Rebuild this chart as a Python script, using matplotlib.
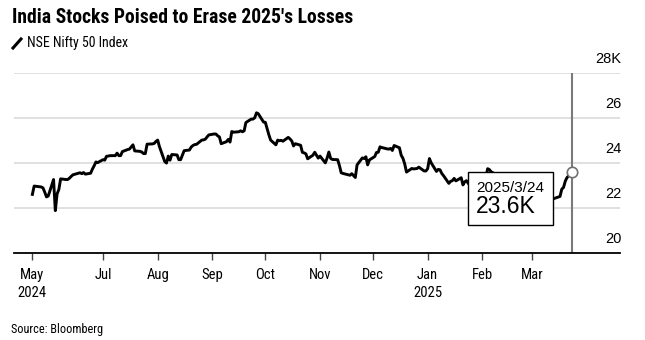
import matplotlib
matplotlib.use("Agg")
import matplotlib.pyplot as plt
from matplotlib.lines import Line2D
from matplotlib.patches import Rectangle
import pandas as pd

# NSE Nifty 50 daily close, thousands
dates = [
    "2024-05-22", "2024-05-23", "2024-05-24", "2024-05-27", "2024-05-28", "2024-05-29", "2024-05-30", "2024-05-31",
    "2024-06-03", "2024-06-04", "2024-06-05", "2024-06-06", "2024-06-07", "2024-06-10", "2024-06-11", "2024-06-12",
    "2024-06-13", "2024-06-14", "2024-06-18", "2024-06-19", "2024-06-20", "2024-06-21", "2024-06-24", "2024-06-25",
    "2024-06-26", "2024-06-27", "2024-06-28",
    "2024-07-01", "2024-07-02", "2024-07-03", "2024-07-04", "2024-07-05", "2024-07-08", "2024-07-09", "2024-07-10",
    "2024-07-11", "2024-07-12", "2024-07-15", "2024-07-16", "2024-07-18", "2024-07-19", "2024-07-22", "2024-07-23",
    "2024-07-24", "2024-07-25", "2024-07-26", "2024-07-29", "2024-07-30", "2024-07-31",
    "2024-08-01", "2024-08-02", "2024-08-05", "2024-08-06", "2024-08-07", "2024-08-08", "2024-08-09", "2024-08-12",
    "2024-08-13", "2024-08-14", "2024-08-16", "2024-08-19", "2024-08-20", "2024-08-21", "2024-08-22", "2024-08-23",
    "2024-08-26", "2024-08-27", "2024-08-28", "2024-08-29", "2024-08-30",
    "2024-09-02", "2024-09-03", "2024-09-04", "2024-09-05", "2024-09-06", "2024-09-09", "2024-09-10", "2024-09-11",
    "2024-09-12", "2024-09-13", "2024-09-16", "2024-09-17", "2024-09-18", "2024-09-19", "2024-09-20", "2024-09-23",
    "2024-09-24", "2024-09-25", "2024-09-26", "2024-09-27", "2024-09-30",
    "2024-10-01", "2024-10-03", "2024-10-04", "2024-10-07", "2024-10-08", "2024-10-09", "2024-10-10", "2024-10-11",
    "2024-10-14", "2024-10-15", "2024-10-16", "2024-10-17", "2024-10-18", "2024-10-21", "2024-10-22", "2024-10-23",
    "2024-10-24", "2024-10-25", "2024-10-28", "2024-10-29", "2024-10-30", "2024-10-31",
    "2024-11-01", "2024-11-04", "2024-11-05", "2024-11-06", "2024-11-07", "2024-11-08", "2024-11-11", "2024-11-12",
    "2024-11-13", "2024-11-14", "2024-11-18", "2024-11-19", "2024-11-21", "2024-11-22", "2024-11-25", "2024-11-26",
    "2024-11-27", "2024-11-28", "2024-11-29",
    "2024-12-02", "2024-12-03", "2024-12-04", "2024-12-05", "2024-12-06", "2024-12-09", "2024-12-10", "2024-12-11",
    "2024-12-12", "2024-12-13", "2024-12-16", "2024-12-17", "2024-12-18", "2024-12-19", "2024-12-20", "2024-12-23",
    "2024-12-24", "2024-12-26", "2024-12-27", "2024-12-30", "2024-12-31",
    "2025-01-01", "2025-01-02", "2025-01-03", "2025-01-06", "2025-01-07", "2025-01-08", "2025-01-09", "2025-01-10",
    "2025-01-13", "2025-01-14", "2025-01-15", "2025-01-16", "2025-01-17", "2025-01-20", "2025-01-21", "2025-01-22",
    "2025-01-23", "2025-01-24", "2025-01-27", "2025-01-28", "2025-01-29", "2025-01-30", "2025-01-31",
    "2025-02-01", "2025-02-03", "2025-02-04", "2025-02-05", "2025-02-06", "2025-02-07", "2025-02-10", "2025-02-11",
    "2025-02-12", "2025-02-13", "2025-02-14", "2025-02-17", "2025-02-18", "2025-02-19", "2025-02-20", "2025-02-21",
    "2025-02-24", "2025-02-25", "2025-02-27", "2025-02-28",
    "2025-03-03", "2025-03-04", "2025-03-05", "2025-03-06", "2025-03-07", "2025-03-10", "2025-03-11", "2025-03-12",
    "2025-03-13", "2025-03-17", "2025-03-18", "2025-03-19", "2025-03-20", "2025-03-21", "2025-03-24",
]
values = [
    22.60, 22.97, 22.96, 22.93, 22.89, 22.70, 22.49, 22.53,
    23.26, 21.88, 22.62, 22.82, 23.29, 23.26, 23.26, 23.32,
    23.40, 23.47, 23.56, 23.52, 23.57, 23.50, 23.54, 23.72,
    23.87, 24.04, 24.01,
    24.14, 24.12, 24.29, 24.30, 24.32, 24.32, 24.43, 24.32,
    24.32, 24.50, 24.59, 24.61, 24.80, 24.53, 24.51, 24.48,
    24.41, 24.41, 24.83, 24.84, 24.86, 24.95,
    25.01, 24.72, 24.06, 23.99, 24.30, 24.12, 24.37, 24.35,
    24.14, 24.14, 24.54, 24.57, 24.70, 24.77, 24.81, 24.82,
    25.01, 25.02, 25.05, 25.15, 25.24,
    25.28, 25.28, 25.20, 25.15, 24.85, 24.94, 25.04, 24.92,
    25.39, 25.36, 25.38, 25.42, 25.38, 25.42, 25.79, 25.94,
    25.94, 26.00, 26.22, 26.18, 25.81,
    25.80, 25.25, 25.01, 24.80, 25.01, 24.98, 25.00, 24.96,
    25.13, 25.06, 24.97, 24.75, 24.85, 24.78, 24.47, 24.44,
    24.40, 24.18, 24.34, 24.47, 24.34, 24.21,
    24.30, 24.00, 24.21, 24.48, 24.20, 24.15, 24.14, 23.88,
    23.56, 23.53, 23.45, 23.52, 23.35, 23.91, 24.22, 24.19,
    24.27, 23.91, 24.13,
    24.28, 24.46, 24.47, 24.71, 24.68, 24.62, 24.61, 24.64,
    24.55, 24.77, 24.67, 24.34, 24.20, 23.95, 23.59, 23.75,
    23.73, 23.75, 23.81, 23.64, 23.64,
    23.74, 24.19, 24.00, 23.62, 23.71, 23.69, 23.53, 23.43,
    23.09, 23.18, 23.21, 23.31, 23.20, 23.34, 23.02, 23.16,
    23.21, 23.09, 22.83, 22.96, 23.16, 23.25, 23.51,
    23.48, 23.36, 23.74, 23.70, 23.60, 23.56, 23.38, 23.07,
    23.05, 23.03, 22.93, 22.96, 22.95, 22.93, 22.91, 22.80,
    22.55, 22.55, 22.55, 22.12,
    22.12, 22.08, 22.34, 22.54, 22.55, 22.46, 22.50, 22.47,
    22.40, 22.51, 22.83, 22.91, 23.19, 23.35, 23.60,
]
tick_dates = ["2024-05-22", "2024-07-01", "2024-08-01", "2024-09-01", "2024-10-01",
              "2024-11-01", "2024-12-01", "2025-01-01", "2025-02-01", "2025-03-01"]
tick_labels = ["May\n2024", "Jul", "Aug", "Sep", "Oct", "Nov", "Dec", "Jan\n2025", "Feb", "Mar"]
y_levels = [20, 22, 24, 26, 28]
y_labels = ["20", "22", "24", "26", "28K"]

narrow = ["Roboto Condensed", "Lato", "DejaVu Sans"]
regular = ["Liberation Sans", "DejaVu Sans"]

x = pd.to_datetime(dates)
W, H = 645, 340
fig = plt.figure(figsize=(W / 100, H / 100), dpi=100)
ax = fig.add_axes([14 / W, 1 - 253 / H, 606 / W, (253 - 72.7) / H])

for lv in y_levels[1:]:
    ax.axhline(lv, color="#dadada", lw=1.2, zorder=1)
ax.plot(x, values, color="black", lw=2.1, zorder=3, solid_joinstyle="round")

last_x, last_y = x[-1], values[-1]
ax.axvline(last_x, color="#7a7a7a", lw=1.5, zorder=2)
ax.plot([last_x], [last_y], "o", ms=7.5, mfc="white", mec="#707070", mew=1.2, zorder=6)

ax.set_xlim(pd.Timestamp("2024-05-11 14:00"), pd.Timestamp("2025-04-20"))
ax.set_ylim(20, 28)
for s in ["top", "left", "right"]:
    ax.spines[s].set_visible(False)
ax.spines["bottom"].set_color("black")
ax.spines["bottom"].set_linewidth(1.3)
ax.set_yticks([])
ax.set_xticks(pd.to_datetime(tick_dates))
ax.set_xticklabels(tick_labels, fontfamily=narrow, fontsize=10.5, linespacing=1.3)
ax.tick_params(axis="x", length=5, width=1, color="#444444", pad=6)

for lv, lab in zip(y_levels, y_labels):
    ax.annotate(lab, xy=(1.002, lv), xycoords=("axes fraction", "data"),
                xytext=(0, 5), textcoords="offset points", ha="right", va="bottom",
                fontsize=10.5, fontfamily=regular, color="black")

# callout box left of the last point
px, py = ax.transData.transform((matplotlib.dates.date2num(last_x), last_y))
bx1 = px - 19
bx0 = bx1 - 85
by1 = py
by0 = by1 - 53
fig.add_artist(Rectangle((bx0 / W, by0 / H), 85 / W, 53 / H, transform=fig.transFigure,
                         facecolor="white", edgecolor="black", lw=1.0, zorder=5))
fig.text((bx0 + 8) / W, (by1 - 20) / H, last_x.strftime("%Y/%-m/%-d"), fontsize=11,
         fontfamily=regular, va="baseline", zorder=6)
fig.text((bx0 + 8) / W, (by1 - 41.5) / H, f"{last_y:.1f}K", fontsize=16.5,
         fontfamily=regular, va="baseline", zorder=6)

fig.text(12 / W, 1 - 23 / H, "India Stocks Poised to Erase 2025's Losses", fontsize=14.1,
         fontweight="bold", fontfamily=narrow, va="baseline")
fig.add_artist(Line2D([13 / W, 21 / W], [1 - 48 / H, 1 - 39 / H], transform=fig.transFigure,
                      color="black", lw=2.2))
fig.text(27 / W, 1 - 47 / H, "NSE Nifty 50 Index", fontsize=10, fontfamily=narrow, va="baseline")
fig.text(11 / W, 1 - 333 / H, "Source: Bloomberg", fontsize=8.8, fontfamily=narrow, va="baseline")

fig.savefig("out.png", dpi=100)
